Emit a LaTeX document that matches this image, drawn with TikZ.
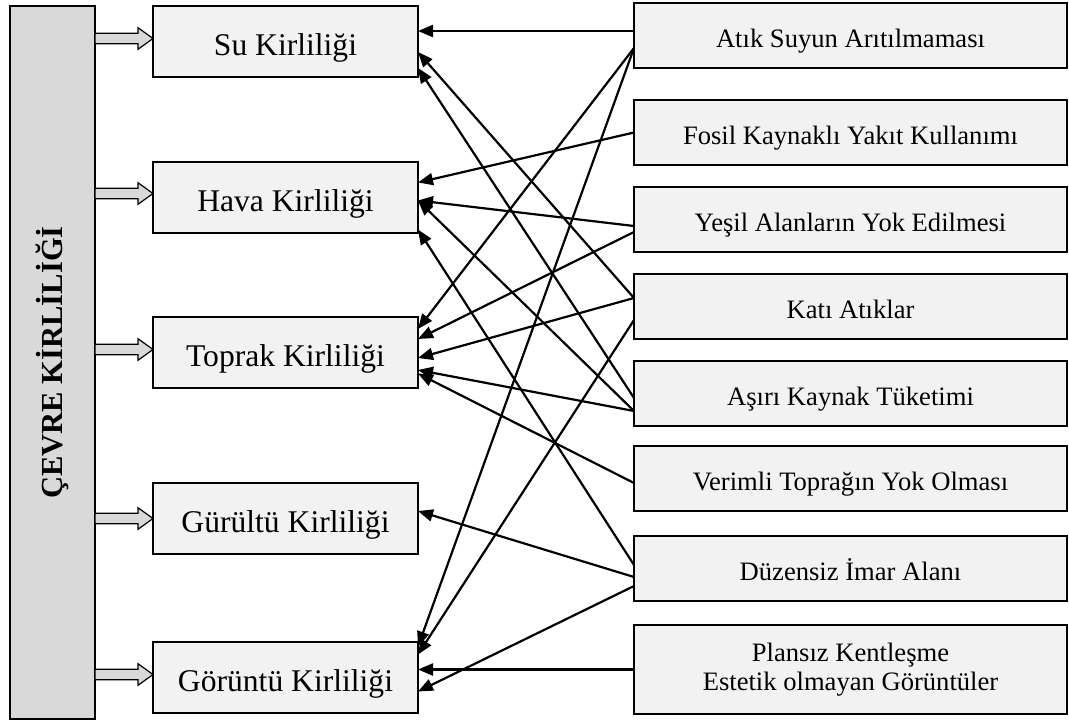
\documentclass[tikz,border=0pt]{standalone}
\usepackage{fontspec}
\setmainfont{Liberation Serif}
\usepackage{xcolor}
\usepackage{tikz}
\usetikzlibrary{positioning, arrows.meta}
\definecolor{kutugri}{HTML}{F2F2F2}
\definecolor{anagri}{HTML}{D9D9D9}
\tikzstyle{ana} = [rectangle, minimum width=42.5pt, minimum height=356.5pt, inner sep=0pt, outer sep=0pt, draw=black, line width=0.8pt, fill=anagri, font=\fontsize{15.3}{18}\selectfont\bfseries]
\tikzstyle{kirlilik} = [rectangle, minimum width=132.5pt, minimum height=35.5pt, outer sep=0pt, text height=14.2pt, text depth=0pt, text centered, draw=black, line width=0.8pt, fill=kutugri, font=\fontsize{15.8}{19}\selectfont]
\tikzstyle{neden} = [rectangle, minimum width=216.5pt, minimum height=32.5pt, outer sep=0pt, text height=12.2pt, text depth=0pt, text centered, draw=black, line width=0.8pt, fill=kutugri, font=\fontsize{13.3}{14.2}\selectfont]
\tikzstyle{ok} = [line width=1.1pt, -{Triangle[length=7.5pt, width=6pt]}]
\tikzstyle{kalinok} = [draw=black, line width=0.6pt, fill=anagri, to path={([yshift=2.6pt]\tikztostart) -- ([xshift=-7.5pt,yshift=2.6pt]\tikztotarget) -- ([xshift=-7.5pt,yshift=5.4pt]\tikztotarget) -- (\tikztotarget) -- ([xshift=-7.5pt,yshift=-5.4pt]\tikztotarget) -- ([xshift=-7.5pt,yshift=-2.6pt]\tikztotarget) -- ([yshift=-2.6pt]\tikztostart) -- cycle}]

\begin{document}
\begin{tikzpicture}
	\useasboundingbox (0,0) rectangle (534.5pt,-361pt);
	\node (cevre) [ana] at (26.25pt,-181.25pt) {\rotatebox{90}{ÇEVRE KİRLİLİĞİ}};

	% kirlilik turleri
	\node (su) [kirlilik] at (142.75pt,-20.75pt) {Su Kirliliği};
	\node (hava) [kirlilik, below=42.5pt of su] {Hava Kirliliği};
	\node (toprak) [kirlilik, below=42pt of hava] {Toprak Kirliliği};
	\node (gurultu) [kirlilik, below=47.5pt of toprak] {Gürültü Kirliliği};
	\node (goruntu) [kirlilik, below=44pt of gurultu] {Görüntü Kirliliği};

	% nedenler
	\node (atik) [neden] at (425.25pt,-17.75pt) {Atık Suyun Arıtılmaması};
	\node (fosil) [neden, below=16pt of atik] {Fosil Kaynaklı Yakıt Kullanımı};
	\node (yesil) [neden, below=11pt of fosil] {Yeşil Alanların Yok Edilmesi};
	\node (kati) [neden, below=11pt of yesil] {Katı Atıklar};
	\node (asiri) [neden, below=11pt of kati] {Aşırı Kaynak Tüketimi};
	\node (verimli) [neden, below=10pt of asiri] {Verimli Toprağın Yok Olması};
	\node (duzensiz) [neden, below=12.5pt of verimli] {Düzensiz İmar Alanı};
	\node (plansiz) [neden, below=12pt of duzensiz, minimum height=44.5pt, text height=, text depth=, align=center] {Plansız Kentleşme\\Estetik olmayan Görüntüler};

	% kalin oklar
	\draw[kalinok] ([yshift=1.5pt]cevre.east |- su.west) to ([yshift=1.5pt]su.west);
	\draw[kalinok] ([yshift=2pt]cevre.east |- hava.west) to ([yshift=2pt]hava.west);
	\draw[kalinok] ([yshift=1.5pt]cevre.east |- toprak.west) to ([yshift=1.5pt]toprak.west);
	\draw[kalinok] (cevre.east |- gurultu.west) to (gurultu.west);
	\draw[kalinok] ([yshift=1.5pt]cevre.east |- goruntu.west) to ([yshift=1.5pt]goruntu.west);

	% baglantilar
	\draw[ok] ([yshift=2.25pt]atik.west) -- ([yshift=2.25pt]atik.west -| su.east);
	\draw[ok] ([yshift=-6.25pt]atik.west) -- ([yshift=11.75pt]toprak.east);
	\draw[ok] ([yshift=-6.25pt]atik.west) -- ([yshift=15.5pt]goruntu.east);
	\draw[ok] (fosil.west) -- ([yshift=7.5pt]hava.east);
	\draw[ok] ([yshift=-3.25pt]yesil.west) -- ([yshift=-1.5pt]hava.east);
	\draw[ok] ([yshift=-6.25pt]yesil.west) -- ([yshift=6.75pt]toprak.east);
	\draw[ok] ([yshift=4.25pt]kati.west) -- ([yshift=-5.25pt]su.east);
	\draw[ok] ([yshift=4.25pt]kati.west) -- ([yshift=-2.75pt]toprak.east);
	\draw[ok] ([yshift=-6.75pt]kati.west) -- ([yshift=11.5pt]goruntu.east);
	\draw[ok] ([yshift=-2.25pt]asiri.west) -- ([yshift=-13.25pt]su.east);
	\draw[ok] ([yshift=-8.75pt]asiri.west) -- ([yshift=-1.5pt]hava.east);
	\draw[ok] ([yshift=-8.75pt]asiri.west) -- ([yshift=-8.75pt]toprak.east);
	\draw[ok] ([yshift=-2.25pt]verimli.west) -- ([yshift=-10.5pt]toprak.east);
	\draw[ok] ([yshift=1.75pt]duzensiz.west) -- ([yshift=-16pt]hava.east);
	\draw[ok] ([yshift=-4.25pt]duzensiz.west) -- ([yshift=3.75pt]gurultu.east);
	\draw[ok] ([yshift=-8.75pt]duzensiz.west) -- ([yshift=-7pt]goruntu.east);
	\draw[ok] (plansiz.west) -- (plansiz.west -| goruntu.east);
\end{tikzpicture}
\end{document}
